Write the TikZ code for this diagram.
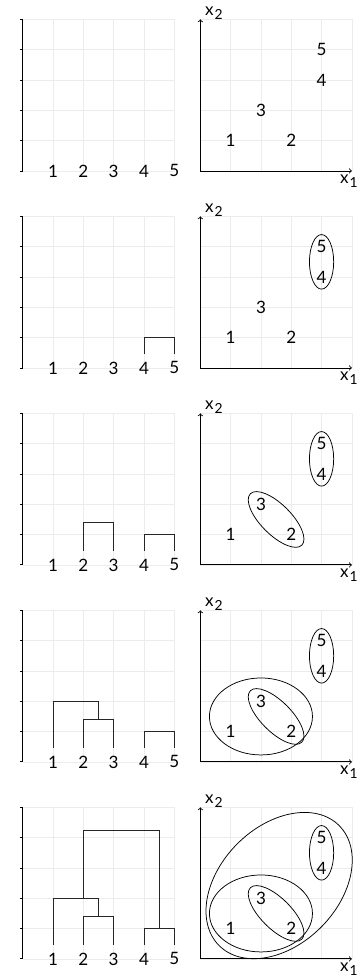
\documentclass[tikz,border=0pt]{standalone}
\usepackage{fontspec}
\setmainfont{Lato}
\newcommand{\xsub}[1]{x\kern1pt\raisebox{-0.4ex}{\fontsize{13}{15}\selectfont #1}}
\begin{document}
\begin{tikzpicture}[
  gridline/.style={gray!15,line width=0.5pt},
  lbl/.style={font=\fontsize{16}{18}\selectfont,inner sep=1pt},
  tree/.style={line width=0.8pt,black!85},
  grp/.style={line width=0.7pt},
  axis/.style={line width=0.8pt}
]
\useasboundingbox (-0.75,-26.63) rectangle (11.2,5.64);
\foreach \r in {1,...,5}{
  \pgfmathsetmacro\dy{-6.5*(\r-1)}
  \begin{scope}[shift={(0,\dy)}]
    % dendrogram panel
    \draw[gridline] (0,0) grid (5,5);
    \draw[axis] (0,0) -- (0,5);
    \foreach \t in {0,...,5}
      \draw[axis] (0,\t) -- (-0.1,\t);
    \foreach \i in {1,...,5}{
      \node[lbl] (l\r-\i) at (\i,0) {\i};
      \coordinate (t\r-\i) at (\i,0.47);
    }
    \coordinate (m\r-45) at (4.5,1);
    \coordinate (m\r-23) at (2.5,1.414);
    \coordinate (m\r-123) at (2,2);
    \coordinate (m\r-all) at (3.25,4.243);
    \ifnum\r>1 \draw[tree] (t\r-4) |- (m\r-45) -| (t\r-5); \fi
    \ifnum\r>2 \draw[tree] (t\r-2) |- (m\r-23) -| (t\r-3); \fi
    \ifnum\r>3 \draw[tree] (t\r-1) |- (m\r-123) -| (m\r-23); \fi
    \ifnum\r>4 \draw[tree] (m\r-123) |- (m\r-all) -| (m\r-45); \fi
    % data panel
    \begin{scope}[xshift=5.86cm]
      \draw[gridline] (0,0) grid (5,5);
      \coordinate (o\r) at (0,0);
      \coordinate (e\r-1) at (5,0);
      \coordinate (e\r-2) at (0,5);
      \draw[axis,->] (o\r) -- (e\r-1);
      \draw[axis,->] (o\r) -- (e\r-2);
      \node[lbl] (x\r-1) at (4.9,-0.34) {\xsub{1}};
      \node[lbl] (x\r-2) at (0.45,5.2) {\xsub{2}};
      \node[lbl] (p\r-1) at (1,1) {1};
      \node[lbl] (p\r-2) at (3,1) {2};
      \node[lbl] (p\r-3) at (2,2) {3};
      \node[lbl] (p\r-4) at (4,3) {4};
      \node[lbl] (p\r-5) at (4,4) {5};
      \ifnum\r>1 \draw[grp] (4,3.5) ellipse [x radius=0.4,y radius=0.9]; \fi
      \ifnum\r>2 \draw[grp,rotate around={-45:(2.5,1.5)}] (2.5,1.5) ellipse [x radius=1.2,y radius=0.5]; \fi
      \ifnum\r>3 \draw[grp] (2,1.5) ellipse [x radius=1.7,y radius=1.27]; \fi
      \ifnum\r>4 \draw[grp,rotate around={45:(2.6,2.42)}] (2.6,2.42) ellipse [x radius=2.8,y radius=1.95]; \fi
    \end{scope}
  \end{scope}
}
\end{tikzpicture}
\end{document}
